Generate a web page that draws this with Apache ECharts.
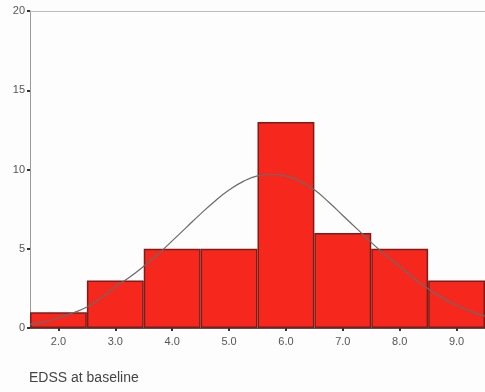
<!DOCTYPE html>
<html>
<head>
<meta charset="utf-8">
<script src="https://cdn.jsdelivr.net/npm/echarts@6/dist/echarts.min.js"></script>
<style>
  html, body { margin: 0; padding: 0; background: #fdfdfd; }
  #chart { width: 485px; height: 392px; }
</style>
</head>
<body>
<div id="chart"></div>
<script>
// Histogram of EDSS scores at baseline (bin width 1.0) with a normal curve overlay
const binLabels = ['2.0', '3.0', '4.0', '5.0', '6.0', '7.0', '8.0', '9.0'];
const binCounts = [1, 3, 5, 5, 13, 6, 5, 3];

// Fitted normal curve, sampled every 0.25 EDSS as [EDSS, frequency]
const curveX = [1.5, 1.75, 2.0, 2.25, 2.5, 2.75, 3.0, 3.25, 3.5, 3.75, 4.0, 4.25, 4.5, 4.75, 5.0, 5.25, 5.5,
                5.75, 6.0, 6.25, 6.5, 6.75, 7.0, 7.25, 7.5, 7.75, 8.0, 8.25, 8.5, 8.75, 9.0, 9.25, 9.5];
const curveY = [0.23, 0.4, 0.63, 0.95, 1.32, 1.9, 2.6, 3.2, 3.9, 4.65, 5.5, 6.35, 7.2, 8.0, 8.7, 9.25, 9.6,
                9.7, 9.6, 9.25, 8.72, 7.95, 7.1, 6.25, 5.4, 4.6, 3.9, 3.15, 2.47, 1.9, 1.45, 1.05, 0.75];

const yTicks = { min: 0, max: 20, interval: 5 };
const xRange = { min: 1.5, max: 9.5 };

const font = 'Liberation Sans, Arial, sans-serif';
const chart = echarts.init(document.getElementById('chart'), null, { renderer: 'canvas' });

chart.setOption({
  backgroundColor: '#fdfdfd',
  animation: false,
  grid: { left: 30, right: 0, top: 11, bottom: 64 },
  xAxis: [
    {
      type: 'category',
      data: binLabels,
      boundaryGap: true,
      axisLine: { show: true, lineStyle: { color: '#555', width: 1 } },
      axisTick: { show: true, alignWithLabel: true, length: 3, lineStyle: { color: '#333', width: 2 } },
      axisLabel: { color: '#555', fontFamily: font, fontSize: 11, margin: 8 },
      splitLine: { show: false }
    },
    {
      type: 'value',
      position: 'top',
      min: xRange.min,
      max: xRange.max,
      axisLine: { show: true, lineStyle: { color: '#bbb', width: 1 } },
      axisTick: { show: false },
      axisLabel: { show: false },
      splitLine: { show: false }
    }
  ],
  yAxis: {
    type: 'value',
    min: yTicks.min,
    max: yTicks.max,
    interval: yTicks.interval,
    axisLine: { show: true, lineStyle: { color: '#999', width: 1 } },
    axisTick: { show: true, length: 3, lineStyle: { color: '#333', width: 2 } },
    axisLabel: { color: '#555', fontFamily: font, fontSize: 11, margin: 5 },
    splitLine: { show: false }
  },
  series: [
    {
      type: 'bar',
      xAxisIndex: 0,
      data: binCounts,
      barWidth: '100%',
      barCategoryGap: '0%',
      itemStyle: { color: '#f6281d', borderColor: '#7d1c18', borderWidth: 1.5 }
    },
    {
      type: 'line',
      xAxisIndex: 1,
      data: curveX.map((x, i) => [x, curveY[i]]),
      smooth: 0.5,
      symbol: 'none',
      lineStyle: { color: '#6a6a6a', width: 1.2 },
      z: 5
    }
  ],
  graphic: [
    {
      type: 'text',
      left: 29,
      top: 371,
      style: { text: 'EDSS at baseline', fill: '#444', font: '14px ' + font }
    }
  ]
});
</script>
</body>
</html>
